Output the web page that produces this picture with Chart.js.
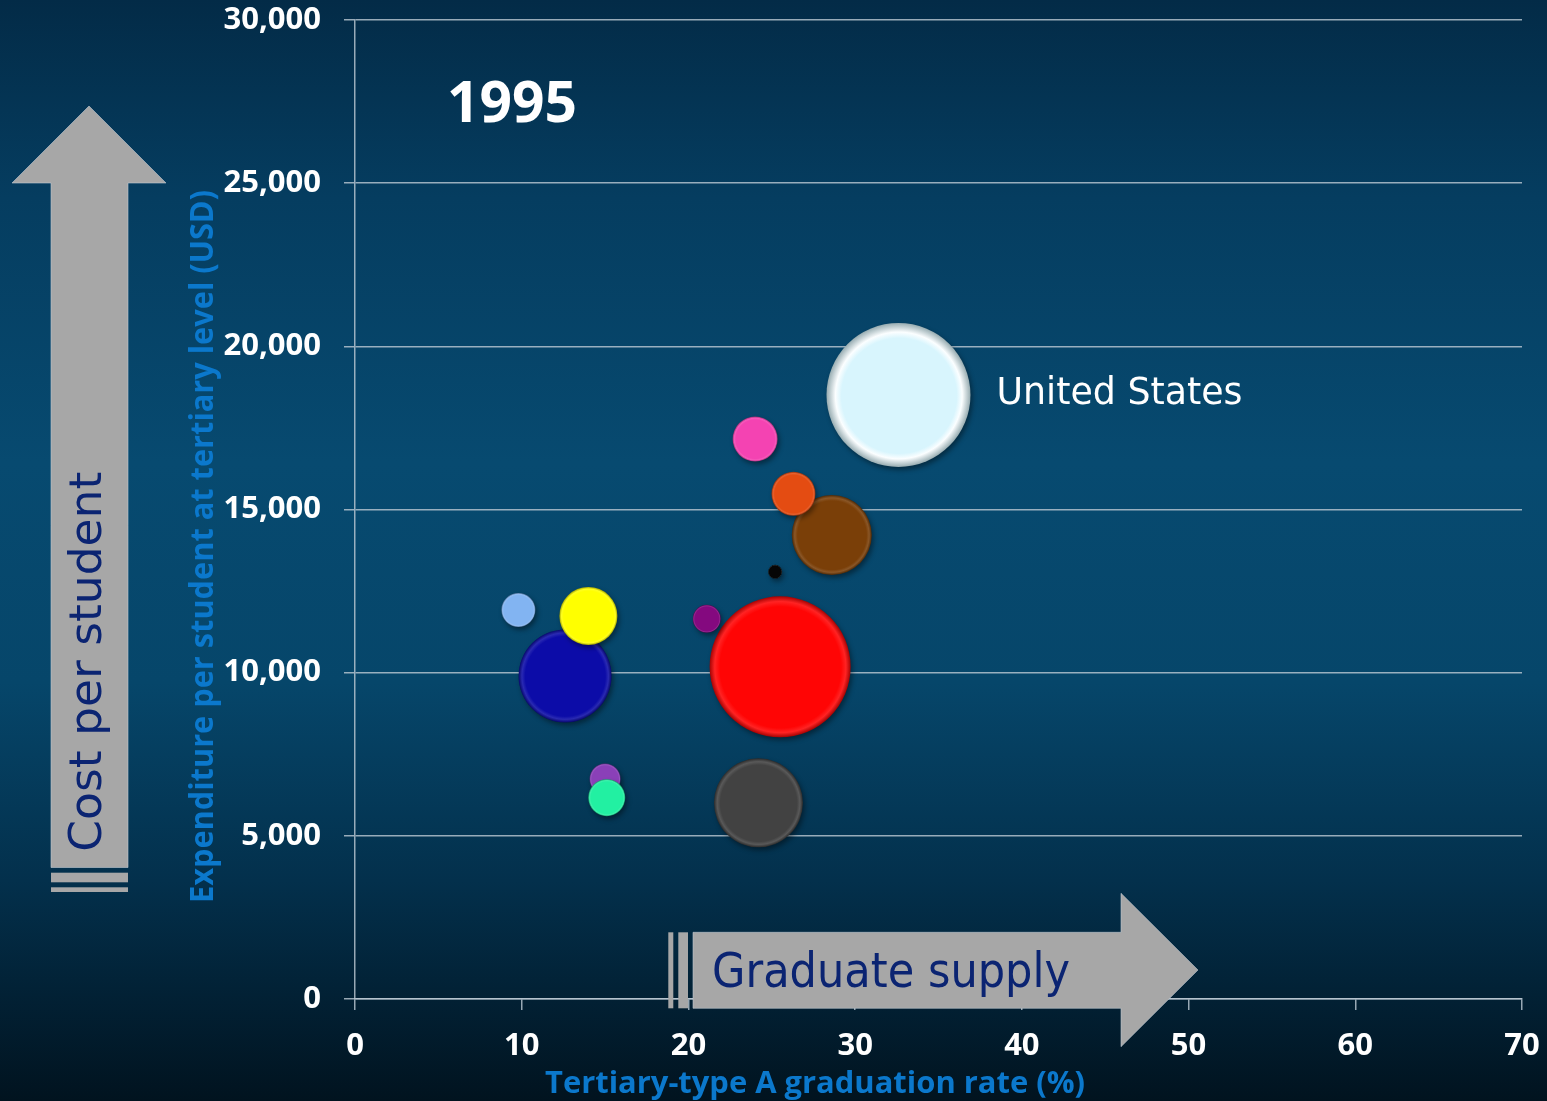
<!DOCTYPE html>
<html>
<head>
<meta charset="utf-8">
<title>Tertiary graduation rate vs expenditure per student, 1995</title>
<script src="https://cdn.jsdelivr.net/npm/chart.js@4.4.1/dist/chart.umd.min.js"></script>
<style>
  html, body { margin: 0; padding: 0; }
  body {
    width: 1547px; height: 1101px; overflow: hidden;
    background: linear-gradient(to bottom, #032b47 0%, #053d60 18%, #074a70 42%, #06466a 62%, #03304c 80%, #01131f 100%);
  }
  #wrap { position: relative; width: 1547px; height: 1101px; }
</style>
</head>
<body>
<div id="wrap"><canvas id="chart" width="1547" height="1101"></canvas></div>
<script>
// Tertiary-type A graduation rate (%) per country
const gradRate   = [32.6, 25.5, 12.6, 24.2, 28.6, 14.0, 24.0, 26.3, 15.0, 15.1, 9.8, 21.1, 25.2];
// Expenditure per student at tertiary level (USD)
const spending   = [18510, 10180, 9900, 6010, 14220, 11740, 17160, 15480, 6740, 6170, 11920, 11650, 13090];
// Bubble size (radius)
const bubbleSize = [72, 70.5, 46.5, 44.5, 40, 29, 22.5, 22, 15.5, 18.5, 17, 14, 7];
// Text shown next to a bubble
const pointLabels = ['United States', '', '', '', '', '', '', '', '', '', '', '', ''];

// Axis tick values
const xTicks = [0, 10, 20, 30, 40, 50, 60, 70];
const yTicks = [0, 5000, 10000, 15000, 20000, 25000, 30000];

const yearLabel = '1995';

// Bubble fill colours, one per country
const bubbleColors = ['#d8f5fd', '#ff0505', '#0c0ca8', '#424242', '#7a3f08', '#ffff00', '#f443b2', '#e44c12',
                      '#8a40b8', '#22f0a2', '#82b4f2', '#84097f', '#060606'];

// Bubbles may overhang the plot edge; don't let their radius pad the layout
Chart.BubbleController.prototype.getMaxOverflow = function () { return 0; };

function mix(hex, amt) {
  const n = parseInt(hex.slice(1), 16);
  let r = (n >> 16) & 255, g = (n >> 8) & 255, b = n & 255;
  const t = amt > 0 ? 255 : 0, a = Math.abs(amt);
  r = Math.round(r + (t - r) * a); g = Math.round(g + (t - g) * a); b = Math.round(b + (t - b) * a);
  return `rgb(${r},${g},${b})`;
}

// Bevelled fill for each bubble
function bubbleFill(ctx) {
  const i = ctx.dataIndex;
  const base = bubbleColors[i] || bubbleColors[0];
  if (ctx.type !== 'data') return base;
  const chart = ctx.chart;
  const xs = chart.scales.x, ys = chart.scales.y;
  if (!xs || !ys) return base;
  const cx = xs.getPixelForValue(gradRate[i]);
  const cy = ys.getPixelForValue(spending[i]);
  const r = bubbleSize[i];
  if (!isFinite(cx) || !isFinite(cy) || !isFinite(r)) return base;
  const isLight = i === 0;
  const g = chart.ctx.createRadialGradient(cx + r * 0.04, cy + r * 0.06, 0, cx, cy, r);
  g.addColorStop(0, base);
  g.addColorStop(isLight ? 0.8 : 0.86, base);
  g.addColorStop(isLight ? 0.88 : 0.93, mix(base, isLight ? 0.9 : 0.12));
  g.addColorStop(1, mix(base, isLight ? -0.3 : -0.35));
  return g;
}

// Fit a text string to a given width by horizontal scaling
function fitText(c, text, x, y, width, font, color, opts = {}) {
  c.save();
  c.font = font;
  c.fillStyle = color;
  c.textBaseline = opts.baseline || 'alphabetic';
  c.textAlign = opts.align || 'center';
  const w = c.measureText(text).width;
  const s = width / w;
  c.translate(x, y);
  if (opts.rotate) c.rotate(opts.rotate);
  c.scale(s, 1);
  c.fillText(text, 0, 0);
  c.restore();
}

const bubbleShadow = {
  id: 'bubbleShadow',
  beforeDatasetsDraw(chart) {
    const c = chart.ctx;
    c.save();
    c.shadowColor = 'rgba(0,0,0,0.4)';
    c.shadowBlur = 5;
    c.shadowOffsetX = 2;
    c.shadowOffsetY = 3;
  },
  afterDatasetsDraw(chart) {
    const c = chart.ctx;
    c.restore();
    // labels beside bubbles
    const meta = chart.getDatasetMeta(0);
    meta.data.forEach((el, i) => {
      if (!pointLabels[i]) return;
      fitText(c, pointLabels[i], el.x + bubbleSize[i] + 26, el.y + 9, 246,
        '37px "DejaVu Sans"', '#ffffff', { align: 'left' });
    });
  }
};

const decorations = {
  id: 'decorations',
  afterDraw(chart) {
    const c = chart.ctx;
    c.save();
    const grey = '#a7a7a7';
    c.fillStyle = grey;
    c.strokeStyle = 'rgba(190,200,210,0.6)';
    c.lineWidth = 1;

    // upward arrow
    c.beginPath();
    c.moveTo(89, 106); c.lineTo(166, 183); c.lineTo(128, 183); c.lineTo(128, 867.5);
    c.lineTo(51, 867.5); c.lineTo(51, 183); c.lineTo(12, 183); c.closePath();
    c.fill(); c.stroke();
    c.fillRect(51, 872.7, 77, 9.6);
    c.fillRect(51, 887.3, 77, 4.7);

    // rightward arrow
    c.beginPath();
    c.moveTo(693, 932.3); c.lineTo(1121, 932.3); c.lineTo(1121, 893.3); c.lineTo(1198, 970);
    c.lineTo(1121, 1046.7); c.lineTo(1121, 1008.3); c.lineTo(693, 1008.3); c.closePath();
    c.fill(); c.stroke();
    c.fillRect(668.3, 932.3, 5, 76);
    c.fillRect(678.3, 932.3, 9.7, 76);
    c.restore();

    const navy = '#0b2472';
    fitText(c, 'Cost per student', 90, 661.7, 380, '44px "DejaVu Sans"', navy,
      { baseline: 'middle', rotate: -Math.PI / 2 });
    fitText(c, 'Graduate supply', 891, 987, 358, '48px "DejaVu Sans"', navy);

    // axis titles
    const blue = '#0b78cc';
    fitText(c, 'Tertiary-type A graduation rate (%)', 815, 1093, 540,
      'bold 30px "Open Sans"', blue);
    fitText(c, 'Expenditure per student at tertiary level (USD)', 213, 546.5, 713,
      'bold 33px "Open Sans"', blue, { rotate: -Math.PI / 2 });

    // year
    fitText(c, yearLabel, 512, 122, 130, 'bold 58px "Open Sans"', '#ffffff');
  }
};

const axisGrey = 'rgba(190,202,212,0.8)';

new Chart(document.getElementById('chart'), {
  type: 'bubble',
  data: {
    datasets: [{
      data: gradRate.map((x, i) => ({ x, y: spending[i], r: bubbleSize[i] })),
      backgroundColor: bubbleFill,
      borderWidth: 0,
      hoverBorderWidth: 0,
      clip: false
    }]
  },
  options: {
    responsive: false,
    animation: false,
    events: [],
    layout: { padding: { top: 20, right: 25, left: 0, bottom: 0 } },
    plugins: { legend: { display: false }, tooltip: { enabled: false } },
    scales: {
      x: {
        type: 'linear',
        min: xTicks[0], max: xTicks[xTicks.length - 1],
        afterFit(scale) { scale.height = 102; scale.paddingLeft = 0; scale.paddingRight = 0; },
        afterBuildTicks(scale) { scale.ticks = xTicks.map(v => ({ value: v })); },
        ticks: {
          color: '#ffffff', padding: 18,
          font: { family: '"Open Sans"', weight: 'bold', size: 31 }
        },
        grid: { drawOnChartArea: false, drawTicks: true, tickLength: 11, color: axisGrey, lineWidth: 1.5 },
        border: { display: true, color: axisGrey, width: 1.5 }
      },
      y: {
        type: 'linear',
        min: yTicks[0], max: yTicks[yTicks.length - 1],
        afterFit(scale) { scale.width = 355; scale.paddingTop = 0; scale.paddingBottom = 0; },
        afterBuildTicks(scale) { scale.ticks = yTicks.map(v => ({ value: v })); },
        ticks: {
          color: '#ffffff', padding: 23,
          font: { family: '"Open Sans"', weight: 'bold', size: 31 },
          callback: v => v.toLocaleString('en-US')
        },
        grid: { drawOnChartArea: true, drawTicks: true, tickLength: 11, color: axisGrey, lineWidth: 1.5 },
        border: { display: true, color: axisGrey, width: 1.5 }
      }
    }
  },
  plugins: [bubbleShadow, decorations]
});
</script>
</body>
</html>
